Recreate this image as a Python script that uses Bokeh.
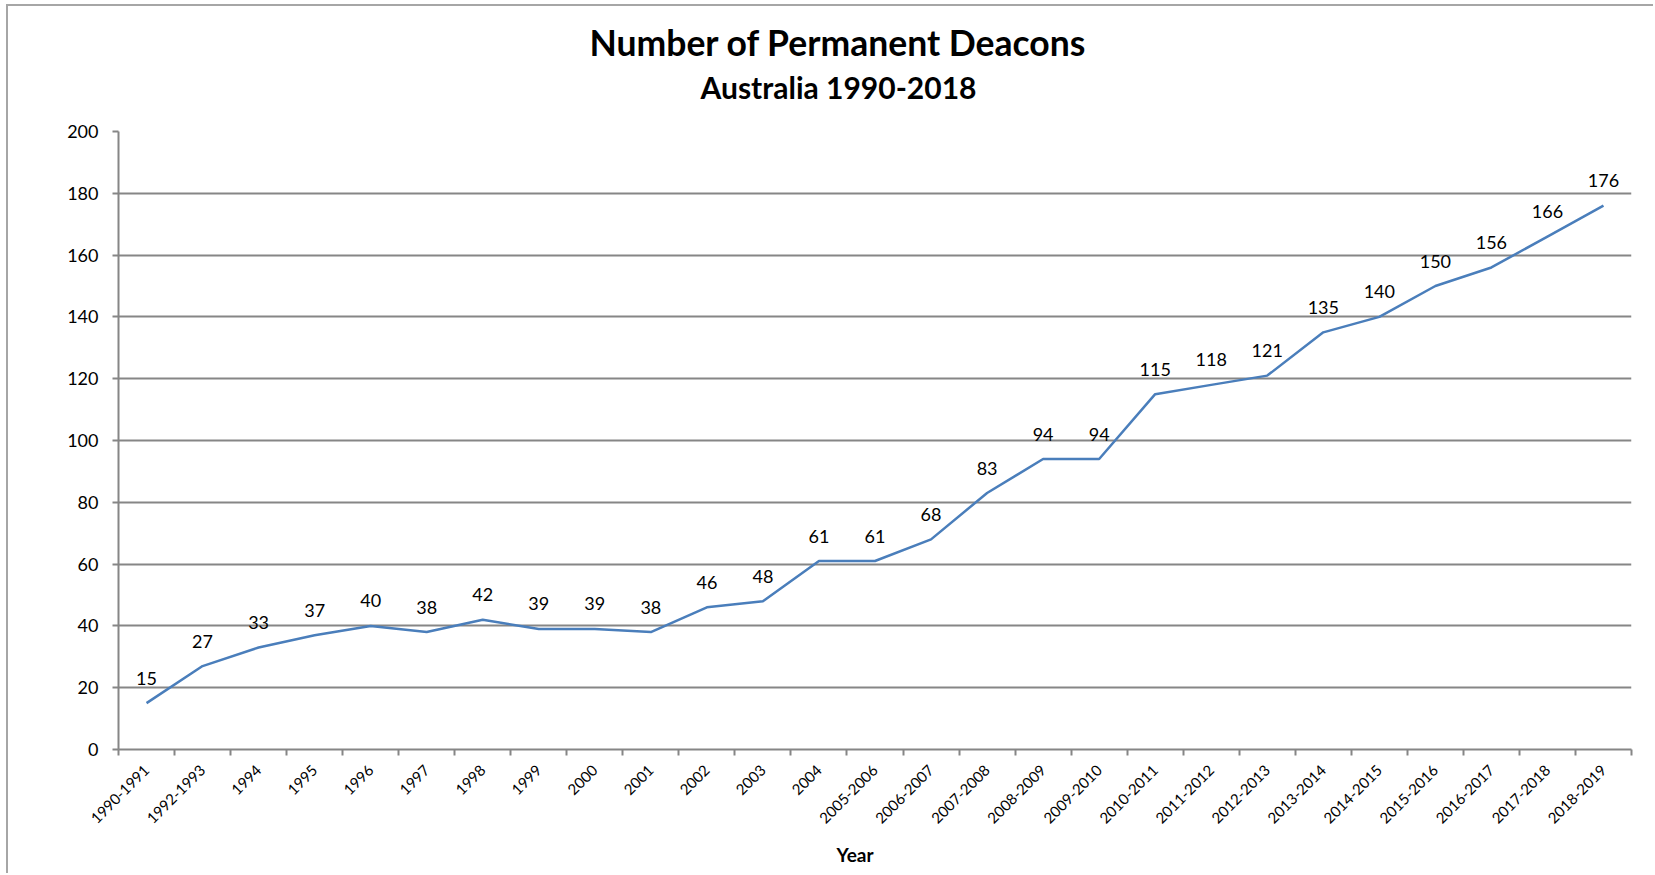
import numpy as np
from bokeh.plotting import figure
from bokeh.models import (ColumnDataSource, LabelSet, FixedTicker, Range1d,
                          Title)
from bokeh.core.properties import value
from bokeh.embed import file_html
from bokeh.resources import INLINE

# Survey periods and number of permanent deacons
years = ["1990-1991", "1992-1993", "1994", "1995", "1996", "1997", "1998",
         "1999", "2000", "2001", "2002", "2003", "2004", "2005-2006",
         "2006-2007", "2007-2008", "2008-2009", "2009-2010", "2010-2011",
         "2011-2012", "2012-2013", "2013-2014", "2014-2015", "2015-2016",
         "2016-2017", "2017-2018", "2018-2019"]
deacons = [15, 27, 33, 37, 40, 38, 42, 39, 39, 38, 46, 48, 61, 61, 68, 83,
           94, 94, 115, 118, 121, 135, 140, 150, 156, 166, 176]
y_ticks = [0, 20, 40, 60, 80, 100, 120, 140, 160, 180, 200]

FONT = "Lato"
GREY = "#868686"
BLUE = "#4a7ebb"

n = len(years)
xpos = np.arange(n) + 0.5          # category centres
bounds = np.arange(n + 1)          # category boundaries

src = ColumnDataSource(dict(x=xpos, y=deacons,
                            lbl=[str(v) for v in deacons]))

p = figure(width=1647, height=869, output_backend="svg",
           toolbar_location=None, x_range=Range1d(0, n),
           y_range=Range1d(0, 200), title=None,
           min_border_left=110, min_border_right=24,
           min_border_top=125, min_border_bottom=126)
p.outline_line_color = None
p.background_fill_color = "white"
p.border_fill_color = "white"
# chart-area border on the left and top edges
p.styles = {"margin-left": "6px", "margin-top": "4px",
            "border-left": "2px solid #a6a6a6",
            "border-top": "2px solid #a6a6a6"}

p.line("x", "y", source=src, line_color=BLUE, line_width=2.5)

p.add_layout(LabelSet(x="x", y="y", text="lbl", source=src,
                      text_align="center", text_baseline="middle",
                      y_offset=25, text_font=value(FONT),
                      text_font_size=value("18px"),
                      text_color="black"))

# y axis
p.yaxis.ticker = FixedTicker(ticks=y_ticks)
p.yaxis.axis_line_color = GREY
p.yaxis.axis_line_width = 2
p.yaxis.major_tick_line_color = GREY
p.yaxis.major_tick_line_width = 2
p.yaxis.major_tick_out = 6
p.yaxis.major_tick_in = 0
p.yaxis.minor_tick_line_color = None
p.yaxis.major_label_standoff = 14
p.yaxis.major_label_text_font = FONT
p.yaxis.major_label_text_font_size = "18px"
p.yaxis.major_label_text_color = "black"

# x axis: labels at centres, tick marks at boundaries
p.xaxis.ticker = FixedTicker(ticks=list(xpos), minor_ticks=list(bounds))
p.xaxis.major_label_overrides = {float(x): y for x, y in zip(xpos, years)}
p.xaxis.major_label_orientation = np.pi / 4
p.xaxis.axis_line_color = GREY
p.xaxis.axis_line_width = 2
p.xaxis.major_tick_line_color = None
p.xaxis.major_tick_out = 0
p.xaxis.major_tick_in = 0
p.xaxis.minor_tick_line_color = GREY
p.xaxis.minor_tick_line_width = 2
p.xaxis.minor_tick_out = 6
p.xaxis.minor_tick_in = 0
p.xaxis.major_label_standoff = 12
p.xaxis.major_label_text_font = FONT
p.xaxis.major_label_text_font_size = "15px"
p.xaxis.major_label_text_color = "black"

p.xgrid.grid_line_color = None
p.ygrid.ticker = FixedTicker(ticks=y_ticks)
p.ygrid.grid_line_color = GREY
p.ygrid.grid_line_width = 2

# titles (subtitle first: it sits closest to the plot)
p.add_layout(Title(text="Australia 1990-2018", align="left", offset=582,
                   standoff=53, text_font=FONT, text_font_style="bold",
                   text_font_size="30px", text_color="black"), "above")
p.add_layout(Title(text="Number of Permanent Deacons", align="left",
                   offset=471, standoff=-47, text_font=FONT,
                   text_font_style="bold", text_font_size="35.5px",
                   text_color="black"), "above")
p.add_layout(Title(text="Year", align="left", offset=718, standoff=19,
                   text_font=FONT, text_font_style="bold",
                   text_font_size="19px", text_color="black"), "below")

open("out.html", "w").write(file_html(p, INLINE))
